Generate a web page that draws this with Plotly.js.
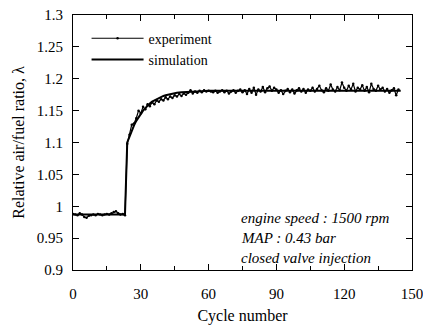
<!DOCTYPE html>
<html>
<head>
<meta charset="utf-8">
<script src="https://cdn.plot.ly/plotly-3.0.1.min.js"></script>
<style>html,body{margin:0;padding:0;background:#fff;}#chart{width:423px;height:329px;}</style>
</head>
<body>
<div id="chart"></div>
<script>
// experiment: relative air/fuel ratio per cycle (cycle 0..144)
const expLambda = [
  0.988,0.987,0.986,0.989,0.987,0.983,0.982,0.985,0.986,0.987,0.986,0.988,0.987,0.986,0.987,0.988,0.987,0.989,0.991,0.992,0.989,0.987,0.988,0.986,
  1.098,1.112,1.128,1.130,1.138,1.150,1.146,1.156,1.152,1.160,1.157,1.163,1.160,1.166,1.164,1.168,1.166,1.171,1.168,1.172,1.170,1.174,1.172,1.176,1.173,1.177,1.175,1.178,1.182,1.177,1.180,1.178,1.181,1.179,1.182,1.180,1.181,
  1.180,1.179,1.181,1.178,1.180,1.182,1.179,1.181,1.177,1.180,1.182,1.178,1.181,1.183,1.179,
  1.182,1.176,1.184,1.178,1.186,1.175,1.183,1.180,1.187,1.179,1.185,1.188,1.181,1.186,1.183,
  1.178,1.182,1.176,1.181,1.184,1.179,1.183,1.177,1.182,1.185,1.180,1.184,1.178,1.183,1.181,
  1.186,1.180,1.184,1.189,1.182,1.179,1.185,1.181,1.191,1.183,1.180,1.187,1.182,1.194,1.186,
  1.181,1.189,1.183,1.192,1.180,1.186,1.183,1.190,1.181,1.187,1.179,1.192,1.184,1.181,1.189,
  1.183,1.186,1.180,1.184,1.178,1.182,1.185,1.174,1.183
];
const expCycles = expLambda.map((v, i) => i);

// simulation
const simCycles = [0, 23, 24, 25, 26, 27, 28, 29, 30, 31, 32, 33, 34, 35, 36, 37, 38, 39, 40, 41, 42, 43, 44, 46, 48, 50, 52, 55, 60, 70, 80, 90, 100, 110, 120, 130, 140, 145];
const simLambda = [0.987, 0.987, 1.100, 1.110, 1.119, 1.127, 1.134, 1.140, 1.145, 1.150, 1.154, 1.158, 1.161, 1.164, 1.166, 1.168, 1.170, 1.172, 1.173, 1.174, 1.175, 1.176, 1.177, 1.178, 1.179, 1.179, 1.180, 1.180, 1.181, 1.181, 1.181, 1.181, 1.181, 1.181, 1.181, 1.181, 1.181, 1.181];

const xTicks = [0, 30, 60, 90, 120, 150];
const yTicks = [0.9, 0.95, 1, 1.05, 1.1, 1.15, 1.2, 1.25, 1.3];
const yTickText = ['0.9', '0.95', '1', '1.05', '1.1', '1.15', '1.2', '1.25', '1.3'];

const notes = ['engine speed : 1500 rpm', 'MAP : 0.43 bar', 'closed valve injection'];

const serif = 'Liberation Serif';

const traces = [
  {
    x: expCycles, y: expLambda, name: 'experiment', type: 'scatter', mode: 'lines+markers',
    line: {color: '#000', width: 1.2}, marker: {color: '#000', size: 2.5}
  },
  {
    x: simCycles, y: simLambda, name: 'simulation', type: 'scatter', mode: 'lines',
    line: {color: '#000', width: 2, shape: 'linear'}
  }
];

const noteY = [0.204, 0.124, 0.049];
const annotations = notes.map((t, i) => ({
  text: t, xref: 'paper', yref: 'paper', x: 0.49, y: noteY[i], xanchor: 'left', yanchor: 'middle',
  showarrow: false, font: {family: serif, size: 15, color: '#000', style: 'italic'}
}));

const layout = {
  width: 423, height: 329,
  margin: {l: 73, r: 11, t: 15, b: 59},
  paper_bgcolor: '#fff', plot_bgcolor: '#fff',
  font: {family: serif, size: 15, color: '#000'},
  showlegend: true,
  legend: {
    x: 0.04, y: 0.97, xanchor: 'left', yanchor: 'top', bgcolor: 'rgba(0,0,0,0)',
    font: {family: serif, size: 14, color: '#000'}, itemwidth: 52, tracegroupgap: 0
  },
  xaxis: {
    range: [0, 150], tickvals: xTicks, ticks: 'inside', ticklen: 6, tickcolor: '#000',
    showline: true, linecolor: '#000', linewidth: 1, mirror: 'ticks', showgrid: false, zeroline: false,
    ticklabelstandoff: 10, ticklabeloverflow: 'allow',
    minor: {dtick: 15, tick0: 0, ticks: 'inside', ticklen: 4, tickcolor: '#000', showgrid: false},
    title: {text: 'Cycle number', font: {family: serif, size: 16}, standoff: 8}
  },
  yaxis: {
    range: [0.9, 1.3], tickvals: yTicks, ticktext: yTickText, ticks: 'inside', ticklen: 6, tickcolor: '#000',
    showline: true, linecolor: '#000', linewidth: 1, mirror: 'ticks', showgrid: false, zeroline: false,
    ticklabelstandoff: 6,
    title: {text: 'Relative air/fuel ratio, λ', font: {family: serif, size: 16}, standoff: 8}
  },
  annotations: annotations
};

Plotly.newPlot('chart', traces, layout, {displayModeBar: false, staticPlot: true});
</script>
</body>
</html>
